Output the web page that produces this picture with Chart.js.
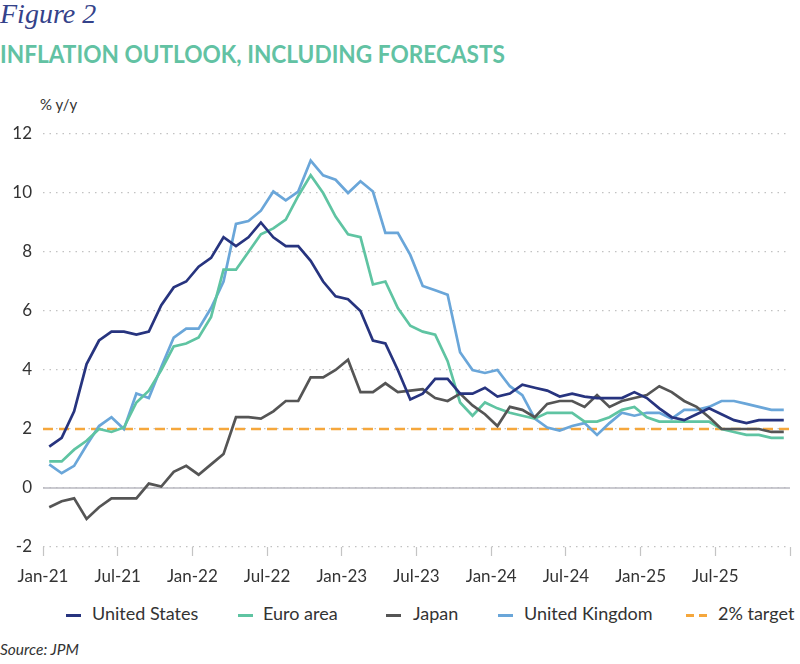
<!DOCTYPE html>
<html>
<head>
<meta charset="utf-8">
<script src="https://cdn.jsdelivr.net/npm/chart.js@4/dist/chart.umd.min.js"></script>
<style>
  body { margin: 0; background: #fff; width: 800px; height: 664px; position: relative; overflow: hidden; font-family: Lato, "Open Sans", sans-serif; }
  #fig { position: absolute; left: 0; top: -2px; font-family: "Liberation Serif", serif; font-style: italic; font-size: 28px; color: #34428a; }
  #title { position: absolute; left: 0; top: 38px; font-family: Lato, sans-serif; font-weight: 700; font-size: 25px; color: #62c2a3; white-space: nowrap; transform-origin: 0 0; }
  #unit { position: absolute; left: 40px; top: 95px; font-size: 15px; color: #333; }
  #chartBox { position: absolute; left: 0; top: 110px; }
  .leg { position: absolute; top: 602px; font-size: 18px; color: #333; white-space: nowrap; }
  .mk { position: absolute; top: 12px; height: 3px; }
  #source { position: absolute; left: 0; top: 640px; font-style: italic; font-size: 15.5px; color: #333; }
</style>
</head>
<body>
<div id="fig">Figure 2</div>
<div id="title">INFLATION OUTLOOK, INCLUDING FORECASTS</div>
<div id="unit">% y/y</div>
<div id="chartBox"><canvas id="myChart" width="800" height="480"></canvas></div>
<div id="legend"></div>
<div id="source">Source: JPM</div>
<script>
// monthly, Jan-21 .. Dec-25
const tickLabels = ["Jan-21", "Jul-21", "Jan-22", "Jul-22", "Jan-23", "Jul-23", "Jan-24", "Jul-24", "Jan-25", "Jul-25"];

const unitedStates = [1.4, 1.7, 2.6, 4.2, 5.0, 5.3, 5.3, 5.2, 5.3, 6.2, 6.8, 7.0,
  7.5, 7.8, 8.5, 8.2, 8.5, 9.0, 8.5, 8.2, 8.2, 7.7, 7.0, 6.5,
  6.4, 6.0, 5.0, 4.9, 4.0, 3.0, 3.2, 3.7, 3.7, 3.2, 3.2, 3.4,
  3.1, 3.2, 3.5, 3.4, 3.3, 3.1, 3.2, 3.1, 3.05, 3.05, 3.05, 3.25,
  3.05, 2.7, 2.4, 2.3, 2.5, 2.7, 2.5, 2.3, 2.2, 2.3, 2.3, 2.3];

const euroArea = [0.9, 0.9, 1.3, 1.6, 2.0, 1.9, 2.05, 2.9, 3.3, 4.0, 4.8, 4.9,
  5.1, 5.8, 7.4, 7.4, 8.0, 8.6, 8.8, 9.1, 9.9, 10.6, 10.0, 9.2,
  8.6, 8.5, 6.9, 7.0, 6.1, 5.5, 5.3, 5.2, 4.3, 2.9, 2.45, 2.9,
  2.7, 2.55, 2.45, 2.35, 2.55, 2.55, 2.55, 2.25, 2.25, 2.4, 2.65, 2.75,
  2.4, 2.25, 2.25, 2.25, 2.25, 2.25, 2.0, 1.9, 1.8, 1.8, 1.7, 1.7];

const japan = [-0.65, -0.45, -0.35, -1.05, -0.65, -0.35, -0.35, -0.35, 0.15, 0.05, 0.55, 0.75,
  0.45, 0.8, 1.15, 2.4, 2.4, 2.35, 2.6, 2.95, 2.95, 3.75, 3.75, 4.0,
  4.35, 3.25, 3.25, 3.55, 3.25, 3.3, 3.35, 3.05, 2.95, 3.2, 2.8, 2.5,
  2.1, 2.75, 2.65, 2.4, 2.85, 2.95, 2.95, 2.75, 3.15, 2.75, 2.95, 3.05,
  3.15, 3.45, 3.25, 2.95, 2.75, 2.4, 2.0, 2.0, 2.0, 2.0, 1.9, 1.9];

const unitedKingdom = [0.8, 0.5, 0.75, 1.45, 2.1, 2.4, 2.0, 3.2, 3.05, 4.1, 5.1, 5.4,
  5.4, 6.1, 7.0, 8.95, 9.05, 9.4, 10.05, 9.75, 10.05, 11.1, 10.6, 10.45,
  10.0, 10.4, 10.05, 8.65, 8.65, 7.9, 6.85, 6.7, 6.55, 4.6, 4.0, 3.9,
  4.0, 3.45, 3.15, 2.35, 2.05, 1.95, 2.1, 2.2, 1.8, 2.2, 2.55, 2.45,
  2.55, 2.55, 2.35, 2.65, 2.65, 2.75, 2.95, 2.95, 2.85, 2.75, 2.65, 2.65];

const target = 2;

const colors = {
  us: "#27347f",
  ea: "#5fc4a2",
  jp: "#555555",
  uk: "#6aa6d9",
  target: "#f5a73c",
};

// points sit in the middle of each month, ticks on month boundaries
const toPoints = (arr) => arr.map((v, i) => ({ x: i + 0.5, y: v }));
const nMonths = unitedStates.length;

// solid zero line over the dotted grid
const zeroLine = {
  id: "zeroLine",
  beforeDatasetsDraw(chart) {
    const { ctx, chartArea, scales } = chart;
    const y = scales.y.getPixelForValue(0);
    ctx.save();
    ctx.strokeStyle = "#b8b8c0";
    ctx.lineWidth = 1.5;
    ctx.beginPath();
    ctx.moveTo(chartArea.left, y);
    ctx.lineTo(chartArea.right, y);
    ctx.stroke();
    ctx.restore();
  },
};

const ctx = document.getElementById("myChart").getContext("2d");
const myChart = new Chart(ctx, {
  type: "line",
  data: {
    datasets: [
      { label: "United States", data: toPoints(unitedStates), borderColor: colors.us, borderWidth: 2.7, order: 1 },
      { label: "Euro area", data: toPoints(euroArea), borderColor: colors.ea, borderWidth: 2.7, order: 3 },
      { label: "Japan", data: toPoints(japan), borderColor: colors.jp, borderWidth: 2.7, order: 2 },
      { label: "United Kingdom", data: toPoints(unitedKingdom), borderColor: colors.uk, borderWidth: 2.7, order: 4 },
      {
        label: "2% target",
        data: [{ x: 0, y: target }, { x: nMonths, y: target }],
        borderColor: colors.target,
        borderWidth: 2.7,
        borderDash: [10, 6],
        order: 5,
      },
    ],
  },
  options: {
    responsive: false,
    animation: false,
    events: [],
    elements: { point: { radius: 0 }, line: { tension: 0, fill: false } },
    layout: { padding: { top: 24, right: 8, left: 0, bottom: 8 } },
    plugins: { legend: { display: false }, tooltip: { enabled: false } },
    scales: {
      x: {
        type: "linear",
        min: 0,
        max: nMonths,
        ticks: {
          stepSize: 6,
          autoSkip: false,
          maxRotation: 0,
          padding: 10,
          color: "#333",
          font: { family: "Lato", size: 17 },
          callback: (v) => tickLabels[v / 6] || "",
        },
        grid: { drawOnChartArea: false, drawTicks: true, tickLength: 9, tickColor: "#c4c4c4", tickWidth: 1.2 },
        border: { display: false },
        afterFit: (s) => { s.height = 35; },
      },
      y: {
        min: -2,
        max: 12,
        ticks: {
          stepSize: 2,
          padding: 11,
          color: "#333",
          font: { family: "Lato", size: 17 },
        },
        grid: { drawTicks: false, color: "#c2c2c2", lineWidth: 1.2 },
        border: { display: false, dash: [1.5, 5] },
        afterFit: (s) => { s.width = 43; },
      },
    },
  },
  plugins: [zeroLine],
});

// legend
const legendItems = [
  { label: "United States", color: colors.us, mk: 66, tx: 92 },
  { label: "Euro area", color: colors.ea, mk: 238, tx: 263 },
  { label: "Japan", color: colors.jp, mk: 386, tx: 413 },
  { label: "United Kingdom", color: colors.uk, mk: 498, tx: 524 },
  { label: "2% target", color: colors.target, mk: 686, tx: 718, dashed: true },
];
const legend = document.getElementById("legend");
legendItems.forEach((it) => {
  const m = document.createElement("div");
  m.className = "leg";
  m.style.left = it.mk + "px";
  m.style.width = "1px";
  if (it.dashed) {
    m.innerHTML = `<div class="mk" style="left:0;width:8px;background:${it.color}"></div><div class="mk" style="left:13px;width:8px;background:${it.color}"></div>`;
  } else {
    m.innerHTML = `<div class="mk" style="left:0;width:15px;background:${it.color}"></div>`;
  }
  legend.appendChild(m);
  const t = document.createElement("div");
  t.className = "leg";
  t.style.left = it.tx + "px";
  t.textContent = it.label;
  legend.appendChild(t);
});

// fit title width to the reference
const title = document.getElementById("title");
const w = title.getBoundingClientRect().width;
title.style.transform = `scaleX(${505 / w})`;
</script>
</body>
</html>
